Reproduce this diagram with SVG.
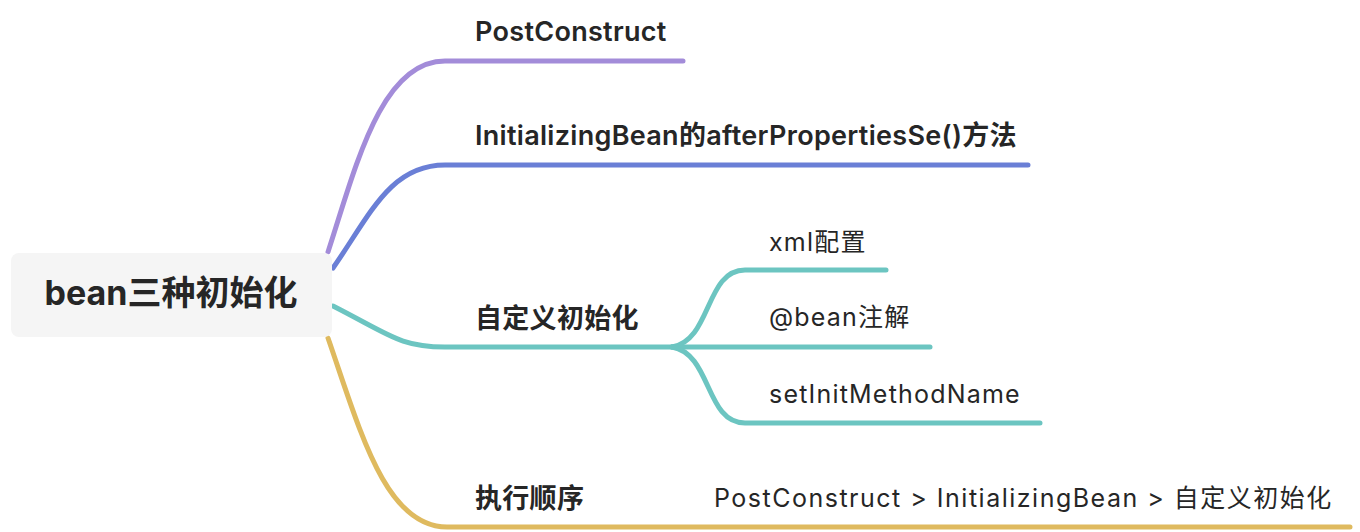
<svg xmlns="http://www.w3.org/2000/svg" width="1360" height="532" viewBox="0 0 1360 532">
<style>
text{font-family:"Inter","Liberation Sans","Noto Sans CJK SC",sans-serif;fill:#262626}
.root{font-size:34px;font-weight:700}
.b1{font-size:27px;font-weight:600;letter-spacing:0.3px}
.b2{font-size:25px;font-weight:400;letter-spacing:1.2px}
.wide{letter-spacing:1.5px}
.ln{fill:none;stroke-width:5;stroke-linecap:round;stroke-linejoin:round}
</style>
<rect width="1360" height="532" fill="#ffffff"/>
<g id="connectors">
<path class="ln" stroke="#a38cd9" d="M328,252 C355,170 380,61 445,61 H683"/>
<path class="ln" stroke="#6a7fd6" d="M333,268 C370,215 390,165 445,165 H1028"/>
<path class="ln" stroke="#6cc5c1" d="M333,306 C390,335 400,347 445,347 H672"/>
<path class="ln" stroke="#dfba5f" d="M328,338 C360,430 385,527 447,527 H1350"/>
<path class="ln" stroke="#6cc5c1" d="M672,347 C712,340 705,270 745,270 H886"/>
<path class="ln" stroke="#6cc5c1" d="M672,347 H930"/>
<path class="ln" stroke="#6cc5c1" d="M672,347 C712,354 705,423 745,423 H1040"/>
</g>
<g id="root">
<rect x="11" y="253" width="321" height="84" rx="8" fill="#f5f5f5"/>
<text class="root" x="171" y="305" text-anchor="middle">bean三种初始化</text>
</g>
<g id="n-postconstruct"><text class="b1" x="475" y="41">PostConstruct</text></g>
<g id="n-initializingbean"><text class="b1" x="475" y="145">InitializingBean的afterPropertiesSe()方法</text></g>
<g id="n-custom"><text class="b1" x="475" y="328">自定义初始化</text></g>
<g id="n-xml"><text class="b2" x="769" y="251">xml配置</text></g>
<g id="n-bean"><text class="b2" x="769" y="326">@bean注解</text></g>
<g id="n-setinit"><text class="b2" x="769" y="403">setInitMethodName</text></g>
<g id="n-order"><text class="b1" x="475" y="508">执行顺序</text></g>
<g id="n-order-detail"><text class="b2 wide" x="714" y="507">PostConstruct &gt; InitializingBean &gt; 自定义初始化</text></g>
</svg>
